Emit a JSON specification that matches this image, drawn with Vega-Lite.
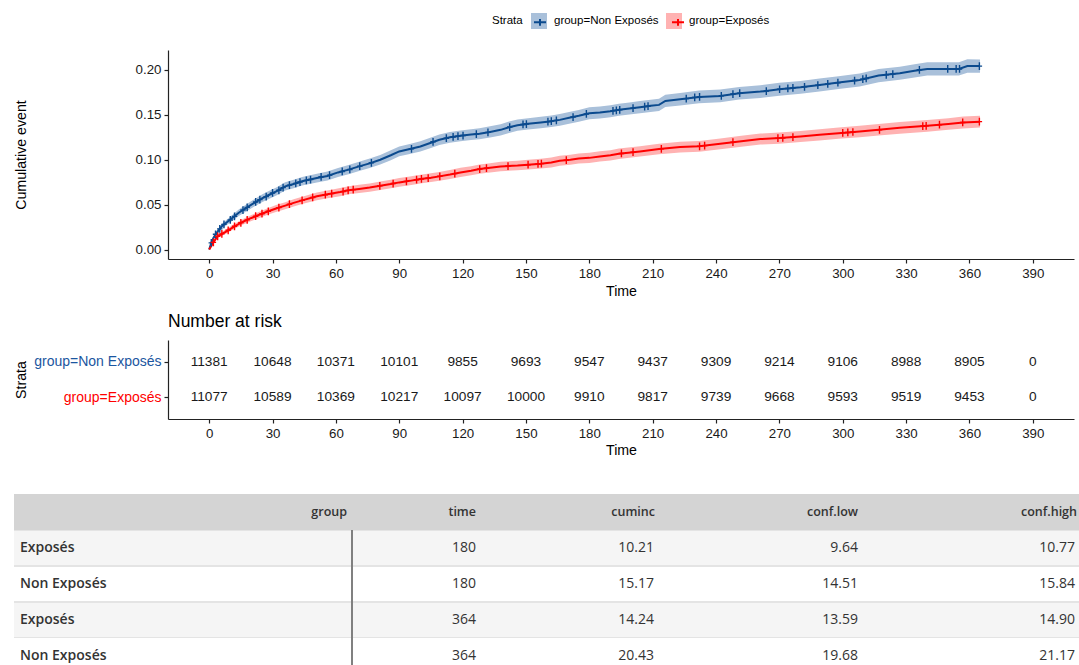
{
  "$schema": "https://vega.github.io/schema/vega-lite/v6.json",
  "padding": {"left": 14, "top": 13, "right": 0, "bottom": 0},
  "autosize": {"type": "pad"},
  "config": {
    "view": {"stroke": null},
    "font": "Liberation Sans",
    "axis": {"grid": false, "domainColor": "#222222", "domainWidth": 1.2, "tickColor": "#222222", "tickWidth": 1.2, "tickSize": 4, "labelColor": "#1a1a1a", "labelFontSize": 13.3, "labelPadding": 3, "titleFontSize": 14.2, "titleFontWeight": "normal", "titleColor": "#000000", "labelFlush": false, "labelOverlap": false}
  },
  "datasets": {
    "curve": [
      {"group": "Non Exposés", "time": 0, "est": 0, "lo": 0, "hi": 0},
      {"group": "Non Exposés", "time": 1, "est": 0.0075, "lo": 0.006, "hi": 0.009},
      {"group": "Non Exposés", "time": 2, "est": 0.013, "lo": 0.011, "hi": 0.015},
      {"group": "Non Exposés", "time": 4, "est": 0.02, "lo": 0.0175, "hi": 0.0225},
      {"group": "Non Exposés", "time": 6, "est": 0.026, "lo": 0.0232, "hi": 0.0288},
      {"group": "Non Exposés", "time": 9, "est": 0.0315, "lo": 0.0285, "hi": 0.0345},
      {"group": "Non Exposés", "time": 14, "est": 0.041, "lo": 0.0375, "hi": 0.0445},
      {"group": "Non Exposés", "time": 20, "est": 0.05, "lo": 0.046, "hi": 0.054},
      {"group": "Non Exposés", "time": 25, "est": 0.057, "lo": 0.0528, "hi": 0.0612},
      {"group": "Non Exposés", "time": 28, "est": 0.0605, "lo": 0.0561, "hi": 0.0649},
      {"group": "Non Exposés", "time": 32, "est": 0.065, "lo": 0.0605, "hi": 0.0695},
      {"group": "Non Exposés", "time": 36, "est": 0.0704, "lo": 0.0658, "hi": 0.075},
      {"group": "Non Exposés", "time": 40, "est": 0.073, "lo": 0.0683, "hi": 0.0777},
      {"group": "Non Exposés", "time": 44, "est": 0.076, "lo": 0.0712, "hi": 0.0808},
      {"group": "Non Exposés", "time": 51, "est": 0.0796, "lo": 0.0747, "hi": 0.0845},
      {"group": "Non Exposés", "time": 56, "est": 0.082, "lo": 0.077, "hi": 0.087},
      {"group": "Non Exposés", "time": 61, "est": 0.0859, "lo": 0.0809, "hi": 0.0909},
      {"group": "Non Exposés", "time": 66, "est": 0.089, "lo": 0.0839, "hi": 0.0941},
      {"group": "Non Exposés", "time": 71, "est": 0.0926, "lo": 0.0874, "hi": 0.0978},
      {"group": "Non Exposés", "time": 76, "est": 0.096, "lo": 0.0907, "hi": 0.1013},
      {"group": "Non Exposés", "time": 81, "est": 0.1, "lo": 0.0946, "hi": 0.1054},
      {"group": "Non Exposés", "time": 86, "est": 0.105, "lo": 0.0995, "hi": 0.1105},
      {"group": "Non Exposés", "time": 90, "est": 0.1093, "lo": 0.1038, "hi": 0.1148},
      {"group": "Non Exposés", "time": 95, "est": 0.112, "lo": 0.1064, "hi": 0.1176},
      {"group": "Non Exposés", "time": 100, "est": 0.1148, "lo": 0.1091, "hi": 0.1205},
      {"group": "Non Exposés", "time": 105, "est": 0.119, "lo": 0.1132, "hi": 0.1248},
      {"group": "Non Exposés", "time": 109, "est": 0.1222, "lo": 0.1163, "hi": 0.1281},
      {"group": "Non Exposés", "time": 114, "est": 0.125, "lo": 0.119, "hi": 0.131},
      {"group": "Non Exposés", "time": 119, "est": 0.1267, "lo": 0.1207, "hi": 0.1327},
      {"group": "Non Exposés", "time": 124, "est": 0.128, "lo": 0.1219, "hi": 0.1341},
      {"group": "Non Exposés", "time": 128, "est": 0.1289, "lo": 0.1228, "hi": 0.135},
      {"group": "Non Exposés", "time": 133, "est": 0.131, "lo": 0.1248, "hi": 0.1372},
      {"group": "Non Exposés", "time": 138, "est": 0.1333, "lo": 0.1271, "hi": 0.1395},
      {"group": "Non Exposés", "time": 142, "est": 0.1362, "lo": 0.1299, "hi": 0.1425},
      {"group": "Non Exposés", "time": 146, "est": 0.1385, "lo": 0.1322, "hi": 0.1448},
      {"group": "Non Exposés", "time": 151, "est": 0.14, "lo": 0.1337, "hi": 0.1463},
      {"group": "Non Exposés", "time": 157, "est": 0.1415, "lo": 0.1351, "hi": 0.1479},
      {"group": "Non Exposés", "time": 162, "est": 0.143, "lo": 0.1366, "hi": 0.1494},
      {"group": "Non Exposés", "time": 166, "est": 0.1444, "lo": 0.1379, "hi": 0.1509},
      {"group": "Non Exposés", "time": 171, "est": 0.147, "lo": 0.1405, "hi": 0.1535},
      {"group": "Non Exposés", "time": 175, "est": 0.1489, "lo": 0.1423, "hi": 0.1555},
      {"group": "Non Exposés", "time": 180, "est": 0.1517, "lo": 0.1451, "hi": 0.1584},
      {"group": "Non Exposés", "time": 185, "est": 0.1526, "lo": 0.146, "hi": 0.1592},
      {"group": "Non Exposés", "time": 190, "est": 0.154, "lo": 0.1473, "hi": 0.1607},
      {"group": "Non Exposés", "time": 194, "est": 0.1556, "lo": 0.1489, "hi": 0.1623},
      {"group": "Non Exposés", "time": 199, "est": 0.157, "lo": 0.1503, "hi": 0.1637},
      {"group": "Non Exposés", "time": 204, "est": 0.1585, "lo": 0.1517, "hi": 0.1653},
      {"group": "Non Exposés", "time": 209, "est": 0.16, "lo": 0.1532, "hi": 0.1668},
      {"group": "Non Exposés", "time": 213, "est": 0.1611, "lo": 0.1543, "hi": 0.1679},
      {"group": "Non Exposés", "time": 216, "est": 0.1655, "lo": 0.1586, "hi": 0.1724},
      {"group": "Non Exposés", "time": 223, "est": 0.1674, "lo": 0.1605, "hi": 0.1743},
      {"group": "Non Exposés", "time": 232, "est": 0.17, "lo": 0.163, "hi": 0.177},
      {"group": "Non Exposés", "time": 242, "est": 0.1711, "lo": 0.1641, "hi": 0.1781},
      {"group": "Non Exposés", "time": 251, "est": 0.1741, "lo": 0.1671, "hi": 0.1811},
      {"group": "Non Exposés", "time": 261, "est": 0.1759, "lo": 0.1688, "hi": 0.183},
      {"group": "Non Exposés", "time": 270, "est": 0.1785, "lo": 0.1714, "hi": 0.1856},
      {"group": "Non Exposés", "time": 280, "est": 0.1807, "lo": 0.1736, "hi": 0.1878},
      {"group": "Non Exposés", "time": 289, "est": 0.1833, "lo": 0.1761, "hi": 0.1905},
      {"group": "Non Exposés", "time": 298, "est": 0.1859, "lo": 0.1787, "hi": 0.1931},
      {"group": "Non Exposés", "time": 308, "est": 0.1889, "lo": 0.1817, "hi": 0.1961},
      {"group": "Non Exposés", "time": 317, "est": 0.1937, "lo": 0.1864, "hi": 0.201},
      {"group": "Non Exposés", "time": 327, "est": 0.1963, "lo": 0.189, "hi": 0.2036},
      {"group": "Non Exposés", "time": 334, "est": 0.199, "lo": 0.1916, "hi": 0.2064},
      {"group": "Non Exposés", "time": 340, "est": 0.2011, "lo": 0.1937, "hi": 0.2085},
      {"group": "Non Exposés", "time": 348, "est": 0.2011, "lo": 0.1937, "hi": 0.2085},
      {"group": "Non Exposés", "time": 355, "est": 0.2011, "lo": 0.1937, "hi": 0.2085},
      {"group": "Non Exposés", "time": 359, "est": 0.2043, "lo": 0.1968, "hi": 0.2118},
      {"group": "Non Exposés", "time": 365, "est": 0.2043, "lo": 0.1968, "hi": 0.2117},
      {"group": "Exposés", "time": 0, "est": 0, "lo": 0, "hi": 0},
      {"group": "Exposés", "time": 1, "est": 0.004, "lo": 0.003, "hi": 0.005},
      {"group": "Exposés", "time": 2, "est": 0.008, "lo": 0.0065, "hi": 0.0095},
      {"group": "Exposés", "time": 4, "est": 0.0148, "lo": 0.0128, "hi": 0.0168},
      {"group": "Exposés", "time": 8, "est": 0.02, "lo": 0.0175, "hi": 0.0225},
      {"group": "Exposés", "time": 12, "est": 0.0259, "lo": 0.0231, "hi": 0.0287},
      {"group": "Exposés", "time": 16, "est": 0.031, "lo": 0.028, "hi": 0.034},
      {"group": "Exposés", "time": 20, "est": 0.0352, "lo": 0.0319, "hi": 0.0385},
      {"group": "Exposés", "time": 24, "est": 0.039, "lo": 0.0355, "hi": 0.0425},
      {"group": "Exposés", "time": 28, "est": 0.0426, "lo": 0.039, "hi": 0.0462},
      {"group": "Exposés", "time": 32, "est": 0.046, "lo": 0.0422, "hi": 0.0498},
      {"group": "Exposés", "time": 36, "est": 0.0489, "lo": 0.045, "hi": 0.0528},
      {"group": "Exposés", "time": 40, "est": 0.052, "lo": 0.048, "hi": 0.056},
      {"group": "Exposés", "time": 44, "est": 0.0548, "lo": 0.0507, "hi": 0.0589},
      {"group": "Exposés", "time": 51, "est": 0.0593, "lo": 0.055, "hi": 0.0636},
      {"group": "Exposés", "time": 56, "est": 0.0615, "lo": 0.0571, "hi": 0.0659},
      {"group": "Exposés", "time": 62, "est": 0.064, "lo": 0.0595, "hi": 0.0685},
      {"group": "Exposés", "time": 66, "est": 0.066, "lo": 0.0615, "hi": 0.0705},
      {"group": "Exposés", "time": 71, "est": 0.0675, "lo": 0.0629, "hi": 0.0721},
      {"group": "Exposés", "time": 76, "est": 0.069, "lo": 0.0644, "hi": 0.0736},
      {"group": "Exposés", "time": 81, "est": 0.0711, "lo": 0.0664, "hi": 0.0758},
      {"group": "Exposés", "time": 86, "est": 0.073, "lo": 0.0683, "hi": 0.0777},
      {"group": "Exposés", "time": 90, "est": 0.0748, "lo": 0.07, "hi": 0.0796},
      {"group": "Exposés", "time": 95, "est": 0.0765, "lo": 0.0717, "hi": 0.0813},
      {"group": "Exposés", "time": 100, "est": 0.0785, "lo": 0.0736, "hi": 0.0834},
      {"group": "Exposés", "time": 105, "est": 0.08, "lo": 0.0751, "hi": 0.0849},
      {"group": "Exposés", "time": 109, "est": 0.0815, "lo": 0.0765, "hi": 0.0865},
      {"group": "Exposés", "time": 114, "est": 0.0835, "lo": 0.0785, "hi": 0.0885},
      {"group": "Exposés", "time": 119, "est": 0.0859, "lo": 0.0808, "hi": 0.091},
      {"group": "Exposés", "time": 124, "est": 0.0878, "lo": 0.0827, "hi": 0.0929},
      {"group": "Exposés", "time": 128, "est": 0.0896, "lo": 0.0844, "hi": 0.0948},
      {"group": "Exposés", "time": 133, "est": 0.091, "lo": 0.0858, "hi": 0.0962},
      {"group": "Exposés", "time": 138, "est": 0.0926, "lo": 0.0873, "hi": 0.0979},
      {"group": "Exposés", "time": 146, "est": 0.0935, "lo": 0.0882, "hi": 0.0988},
      {"group": "Exposés", "time": 151, "est": 0.0945, "lo": 0.0891, "hi": 0.0999},
      {"group": "Exposés", "time": 157, "est": 0.0956, "lo": 0.0902, "hi": 0.101},
      {"group": "Exposés", "time": 162, "est": 0.097, "lo": 0.0915, "hi": 0.1025},
      {"group": "Exposés", "time": 166, "est": 0.0989, "lo": 0.0934, "hi": 0.1044},
      {"group": "Exposés", "time": 171, "est": 0.1, "lo": 0.0944, "hi": 0.1056},
      {"group": "Exposés", "time": 175, "est": 0.1015, "lo": 0.0959, "hi": 0.1071},
      {"group": "Exposés", "time": 180, "est": 0.1021, "lo": 0.0964, "hi": 0.1077},
      {"group": "Exposés", "time": 185, "est": 0.1037, "lo": 0.098, "hi": 0.1094},
      {"group": "Exposés", "time": 190, "est": 0.105, "lo": 0.0993, "hi": 0.1107},
      {"group": "Exposés", "time": 194, "est": 0.1067, "lo": 0.1009, "hi": 0.1125},
      {"group": "Exposés", "time": 204, "est": 0.1093, "lo": 0.1035, "hi": 0.1151},
      {"group": "Exposés", "time": 213, "est": 0.1119, "lo": 0.106, "hi": 0.1178},
      {"group": "Exposés", "time": 223, "est": 0.1141, "lo": 0.1082, "hi": 0.12},
      {"group": "Exposés", "time": 232, "est": 0.115, "lo": 0.109, "hi": 0.121},
      {"group": "Exposés", "time": 242, "est": 0.1178, "lo": 0.1118, "hi": 0.1238},
      {"group": "Exposés", "time": 251, "est": 0.1204, "lo": 0.1143, "hi": 0.1265},
      {"group": "Exposés", "time": 261, "est": 0.123, "lo": 0.1169, "hi": 0.1291},
      {"group": "Exposés", "time": 270, "est": 0.1241, "lo": 0.1179, "hi": 0.1303},
      {"group": "Exposés", "time": 280, "est": 0.1259, "lo": 0.1197, "hi": 0.1321},
      {"group": "Exposés", "time": 289, "est": 0.1278, "lo": 0.1215, "hi": 0.1341},
      {"group": "Exposés", "time": 298, "est": 0.1296, "lo": 0.1233, "hi": 0.1359},
      {"group": "Exposés", "time": 308, "est": 0.1315, "lo": 0.1251, "hi": 0.1379},
      {"group": "Exposés", "time": 317, "est": 0.1333, "lo": 0.1269, "hi": 0.1397},
      {"group": "Exposés", "time": 327, "est": 0.1355, "lo": 0.129, "hi": 0.142},
      {"group": "Exposés", "time": 340, "est": 0.1378, "lo": 0.1313, "hi": 0.1443},
      {"group": "Exposés", "time": 350, "est": 0.1398, "lo": 0.1333, "hi": 0.1463},
      {"group": "Exposés", "time": 357, "est": 0.1415, "lo": 0.1349, "hi": 0.1481},
      {"group": "Exposés", "time": 365, "est": 0.1424, "lo": 0.1359, "hi": 0.149}
    ],
    "censor": [
      {"group": "Non Exposés", "time": 1, "est": 0.0075},
      {"group": "Non Exposés", "time": 3, "est": 0.017},
      {"group": "Non Exposés", "time": 5, "est": 0.023},
      {"group": "Non Exposés", "time": 7, "est": 0.028},
      {"group": "Non Exposés", "time": 10, "est": 0.033},
      {"group": "Non Exposés", "time": 12, "est": 0.037},
      {"group": "Non Exposés", "time": 16, "est": 0.044},
      {"group": "Non Exposés", "time": 18, "est": 0.047},
      {"group": "Non Exposés", "time": 22, "est": 0.053},
      {"group": "Non Exposés", "time": 24, "est": 0.0556},
      {"group": "Non Exposés", "time": 27, "est": 0.059},
      {"group": "Non Exposés", "time": 30, "est": 0.063},
      {"group": "Non Exposés", "time": 33, "est": 0.066},
      {"group": "Non Exposés", "time": 35, "est": 0.069},
      {"group": "Non Exposés", "time": 38, "est": 0.0717},
      {"group": "Non Exposés", "time": 41, "est": 0.0737},
      {"group": "Non Exposés", "time": 43, "est": 0.0752},
      {"group": "Non Exposés", "time": 46, "est": 0.077},
      {"group": "Non Exposés", "time": 48, "est": 0.078},
      {"group": "Non Exposés", "time": 53, "est": 0.081},
      {"group": "Non Exposés", "time": 57, "est": 0.0828},
      {"group": "Non Exposés", "time": 63, "est": 0.087},
      {"group": "Non Exposés", "time": 66.6, "est": 0.0892},
      {"group": "Non Exposés", "time": 71.3, "est": 0.0928},
      {"group": "Non Exposés", "time": 76.8, "est": 0.0966},
      {"group": "Non Exposés", "time": 95.8, "est": 0.1122},
      {"group": "Non Exposés", "time": 106, "est": 0.12},
      {"group": "Non Exposés", "time": 112.3, "est": 0.124},
      {"group": "Non Exposés", "time": 115.5, "est": 0.1254},
      {"group": "Non Exposés", "time": 117.8, "est": 0.1263},
      {"group": "Non Exposés", "time": 120.2, "est": 0.127},
      {"group": "Non Exposés", "time": 126.5, "est": 0.1285},
      {"group": "Non Exposés", "time": 132, "est": 0.1305},
      {"group": "Non Exposés", "time": 142.3, "est": 0.1364},
      {"group": "Non Exposés", "time": 148.6, "est": 0.1393},
      {"group": "Non Exposés", "time": 150.2, "est": 0.1398},
      {"group": "Non Exposés", "time": 160.4, "est": 0.1425},
      {"group": "Non Exposés", "time": 162, "est": 0.143},
      {"group": "Non Exposés", "time": 164.4, "est": 0.1438},
      {"group": "Non Exposés", "time": 172.3, "est": 0.1476},
      {"group": "Non Exposés", "time": 178.6, "est": 0.151},
      {"group": "Non Exposés", "time": 191.2, "est": 0.1545},
      {"group": "Non Exposés", "time": 192.8, "est": 0.155},
      {"group": "Non Exposés", "time": 194.4, "est": 0.1556},
      {"group": "Non Exposés", "time": 200.7, "est": 0.1575},
      {"group": "Non Exposés", "time": 206.2, "est": 0.1591},
      {"group": "Non Exposés", "time": 207.8, "est": 0.1596},
      {"group": "Non Exposés", "time": 225.9, "est": 0.1681},
      {"group": "Non Exposés", "time": 229.9, "est": 0.1694},
      {"group": "Non Exposés", "time": 232.2, "est": 0.17},
      {"group": "Non Exposés", "time": 242.5, "est": 0.1712},
      {"group": "Non Exposés", "time": 248, "est": 0.1732},
      {"group": "Non Exposés", "time": 251.2, "est": 0.1741},
      {"group": "Non Exposés", "time": 263.8, "est": 0.1765},
      {"group": "Non Exposés", "time": 270.1, "est": 0.1785},
      {"group": "Non Exposés", "time": 274, "est": 0.1794},
      {"group": "Non Exposés", "time": 276.4, "est": 0.1799},
      {"group": "Non Exposés", "time": 281.9, "est": 0.1812},
      {"group": "Non Exposés", "time": 288.2, "est": 0.1831},
      {"group": "Non Exposés", "time": 292.9, "est": 0.1845},
      {"group": "Non Exposés", "time": 297.7, "est": 0.1858},
      {"group": "Non Exposés", "time": 305.6, "est": 0.1882},
      {"group": "Non Exposés", "time": 309.5, "est": 0.1897},
      {"group": "Non Exposés", "time": 311.1, "est": 0.1905},
      {"group": "Non Exposés", "time": 320.6, "est": 0.1946},
      {"group": "Non Exposés", "time": 323.7, "est": 0.1954},
      {"group": "Non Exposés", "time": 336.3, "est": 0.2002},
      {"group": "Non Exposés", "time": 349.7, "est": 0.2011},
      {"group": "Non Exposés", "time": 353.7, "est": 0.2011},
      {"group": "Non Exposés", "time": 355.3, "est": 0.2011},
      {"group": "Non Exposés", "time": 364.7, "est": 0.2043},
      {"group": "Exposés", "time": 2, "est": 0.008},
      {"group": "Exposés", "time": 4, "est": 0.0148},
      {"group": "Exposés", "time": 6, "est": 0.0175},
      {"group": "Exposés", "time": 9, "est": 0.0215},
      {"group": "Exposés", "time": 12, "est": 0.0259},
      {"group": "Exposés", "time": 15, "est": 0.0298},
      {"group": "Exposés", "time": 18, "est": 0.0331},
      {"group": "Exposés", "time": 22, "est": 0.0371},
      {"group": "Exposés", "time": 25, "est": 0.0399},
      {"group": "Exposés", "time": 28, "est": 0.0426},
      {"group": "Exposés", "time": 33, "est": 0.0467},
      {"group": "Exposés", "time": 38, "est": 0.0505},
      {"group": "Exposés", "time": 44, "est": 0.0548},
      {"group": "Exposés", "time": 49, "est": 0.058},
      {"group": "Exposés", "time": 55, "est": 0.0611},
      {"group": "Exposés", "time": 58, "est": 0.0623},
      {"group": "Exposés", "time": 63.4, "est": 0.0645},
      {"group": "Exposés", "time": 65.8, "est": 0.0659},
      {"group": "Exposés", "time": 68.2, "est": 0.0667},
      {"group": "Exposés", "time": 80.8, "est": 0.071},
      {"group": "Exposés", "time": 87.1, "est": 0.0735},
      {"group": "Exposés", "time": 93.4, "est": 0.0759},
      {"group": "Exposés", "time": 98.2, "est": 0.0778},
      {"group": "Exposés", "time": 100.5, "est": 0.0786},
      {"group": "Exposés", "time": 103.7, "est": 0.0796},
      {"group": "Exposés", "time": 109.2, "est": 0.0816},
      {"group": "Exposés", "time": 116.3, "est": 0.0846},
      {"group": "Exposés", "time": 128.1, "est": 0.0896},
      {"group": "Exposés", "time": 131.3, "est": 0.0906},
      {"group": "Exposés", "time": 141.5, "est": 0.093},
      {"group": "Exposés", "time": 151, "est": 0.0945},
      {"group": "Exposés", "time": 155.7, "est": 0.0953},
      {"group": "Exposés", "time": 157.3, "est": 0.0957},
      {"group": "Exposés", "time": 169.1, "est": 0.0996},
      {"group": "Exposés", "time": 195.2, "est": 0.107},
      {"group": "Exposés", "time": 200.7, "est": 0.1085},
      {"group": "Exposés", "time": 214.1, "est": 0.1121},
      {"group": "Exposés", "time": 232.2, "est": 0.115},
      {"group": "Exposés", "time": 234.6, "est": 0.1157},
      {"group": "Exposés", "time": 248, "est": 0.1196},
      {"group": "Exposés", "time": 269.3, "est": 0.124},
      {"group": "Exposés", "time": 271.6, "est": 0.1243},
      {"group": "Exposés", "time": 276.4, "est": 0.1252},
      {"group": "Exposés", "time": 300, "est": 0.1299},
      {"group": "Exposés", "time": 302.4, "est": 0.1304},
      {"group": "Exposés", "time": 304.8, "est": 0.1309},
      {"group": "Exposés", "time": 317.4, "est": 0.1334},
      {"group": "Exposés", "time": 337.9, "est": 0.1374},
      {"group": "Exposés", "time": 339.5, "est": 0.1377},
      {"group": "Exposés", "time": 345.8, "est": 0.139},
      {"group": "Exposés", "time": 356.8, "est": 0.1415},
      {"group": "Exposés", "time": 364.7, "est": 0.1424}
    ],
    "risk": [
      {"group": "Non Exposés", "time": 0, "n": 11381},
      {"group": "Non Exposés", "time": 30, "n": 10648},
      {"group": "Non Exposés", "time": 60, "n": 10371},
      {"group": "Non Exposés", "time": 90, "n": 10101},
      {"group": "Non Exposés", "time": 120, "n": 9855},
      {"group": "Non Exposés", "time": 150, "n": 9693},
      {"group": "Non Exposés", "time": 180, "n": 9547},
      {"group": "Non Exposés", "time": 210, "n": 9437},
      {"group": "Non Exposés", "time": 240, "n": 9309},
      {"group": "Non Exposés", "time": 270, "n": 9214},
      {"group": "Non Exposés", "time": 300, "n": 9106},
      {"group": "Non Exposés", "time": 330, "n": 8988},
      {"group": "Non Exposés", "time": 360, "n": 8905},
      {"group": "Non Exposés", "time": 390, "n": 0},
      {"group": "Exposés", "time": 0, "n": 11077},
      {"group": "Exposés", "time": 30, "n": 10589},
      {"group": "Exposés", "time": 60, "n": 10369},
      {"group": "Exposés", "time": 90, "n": 10217},
      {"group": "Exposés", "time": 120, "n": 10097},
      {"group": "Exposés", "time": 150, "n": 10000},
      {"group": "Exposés", "time": 180, "n": 9910},
      {"group": "Exposés", "time": 210, "n": 9817},
      {"group": "Exposés", "time": 240, "n": 9739},
      {"group": "Exposés", "time": 270, "n": 9668},
      {"group": "Exposés", "time": 300, "n": 9593},
      {"group": "Exposés", "time": 330, "n": 9519},
      {"group": "Exposés", "time": 360, "n": 9453},
      {"group": "Exposés", "time": 390, "n": 0}
    ],
    "tbl": [
      {"row": 1, "group": "Exposés", "time": 180, "cuminc": 10.21, "conf_low": 9.64, "conf_high": 10.77},
      {"row": 2, "group": "Non Exposés", "time": 180, "cuminc": 15.17, "conf_low": 14.51, "conf_high": 15.84},
      {"row": 3, "group": "Exposés", "time": 364, "cuminc": 14.24, "conf_low": 13.59, "conf_high": 14.9},
      {"row": 4, "group": "Non Exposés", "time": 364, "cuminc": 20.43, "conf_low": 19.68, "conf_high": 21.17}
    ],
    "cols": [
      {"col": "group"},
      {"col": "time"},
      {"col": "cuminc"},
      {"col": "conf.low"},
      {"col": "conf.high"}
    ]
  },
  "spacing": 35,
  "vconcat": [
    {
      "spacing": 14,
      "vconcat": [
        {
          "width": 906,
          "height": 209,
          "layer": [
            {
              "data": {"name": "curve"},
              "mark": {"type": "area", "interpolate": "linear"},
              "encoding": {
                "x": {"field": "time", "type": "quantitative", "scale": {"domain": [-19.5, 409.5], "nice": false, "zero": false}, "axis": {"title": "Time", "values": [0, 30, 60, 90, 120, 150, 180, 210, 240, 270, 300, 330, 360, 390], "titlePadding": 5}},
                "y": {"field": "lo", "type": "quantitative", "scale": {"domain": [-0.0105, 0.2222], "nice": false, "zero": false}, "axis": {"title": "Cumulative event", "values": [0, 0.05, 0.1, 0.15, 0.2], "format": ".2f", "titlePadding": 107}},
                "y2": {"field": "hi"},
                "fill": {"field": "group", "type": "nominal", "scale": {"domain": ["Non Exposés", "Exposés"], "range": ["#a9c0da", "#ffb2b2"]},
                  "legend": {"orient": "none", "legendX": 324, "legendY": -37, "direction": "horizontal", "title": "Strata", "titleOrient": "left", "titleAnchor": "middle", "titleBaseline": "middle", "titleFontSize": 11.5, "titleFontWeight": "normal", "titleColor": "#000000", "titlePadding": 8, "labelFontSize": 11.5, "labelColor": "#000000", "labelOffset": 7, "columnPadding": 7, "symbolType": "square", "symbolSize": 256, "symbolStrokeWidth": 0, "symbolOpacity": 1, "padding": 0, "labelExpr": "'group=' + datum.label"}}
              }
            },
            {
              "data": {"name": "curve"},
              "mark": {"type": "line", "interpolate": "linear", "strokeWidth": 2},
              "encoding": {
                "x": {"field": "time", "type": "quantitative"},
                "y": {"field": "est", "type": "quantitative"},
                "stroke": {"field": "group", "type": "nominal", "sort": ["Non Exposés", "Exposés"], "scale": {"range": ["#0B4A8E", "#FF0000"]},
                  "legend": {"orient": "none", "legendX": 324, "legendY": -37, "direction": "horizontal", "title": "Strata", "titleOrient": "left", "titleAnchor": "middle", "titleBaseline": "middle", "titleFontSize": 11.5, "titleFontWeight": "normal", "titleColor": "transparent", "titlePadding": 8, "labelFontSize": 11.5, "labelColor": "transparent", "labelOffset": 7, "columnPadding": 7, "symbolType": "M-0.75,0H0.75M0,-0.4V0.45", "symbolSize": 256, "symbolStrokeWidth": 2, "symbolFillColor": "transparent", "symbolOpacity": 1, "padding": 0, "labelExpr": "'group=' + datum.label"}}
              }
            },
            {
              "data": {"name": "censor"},
              "mark": {"type": "point", "shape": "M-0.7,0H0.7M0,-1V1", "filled": false, "size": 60, "strokeWidth": 1.4, "opacity": 1},
              "encoding": {
                "x": {"field": "time", "type": "quantitative"},
                "y": {"field": "est", "type": "quantitative"},
                "stroke": {"field": "group", "type": "nominal", "sort": ["Non Exposés", "Exposés"]}
              }
            }
          ]
        },
        {
          "data": {"name": "risk"},
          "width": 906,
          "height": 79,
          "title": {"text": "Number at risk", "anchor": "start", "frame": "group", "fontSize": 17.5, "fontWeight": "normal", "color": "#000000", "offset": 9.5},
          "mark": {"type": "text", "fontSize": 13.7, "color": "#1a1a1a", "baseline": "middle"},
          "encoding": {
            "x": {"field": "time", "type": "quantitative", "scale": {"domain": [-19.5, 409.5], "nice": false, "zero": false}, "axis": {"title": "Time", "values": [0, 30, 60, 90, 120, 150, 180, 210, 240, 270, 300, 330, 360, 390], "titlePadding": 4}},
            "y": {"field": "group", "type": "nominal", "scale": {"type": "point", "domain": ["Non Exposés", "Exposés"], "padding": 0.6}, "axis": {"title": "Strata", "titlePadding": 5, "labelFontSize": 14, "labelExpr": "'group=' + datum.label", "labelColor": {"condition": {"test": "datum.value === 'Exposés'", "value": "#FF0000"}, "value": "#1B56A0"}}},
            "text": {"field": "n", "type": "quantitative", "format": "d"}
          }
        }
      ]
    },
    {
      "spacing": 0,
      "hconcat": [
        {
          "width": 185,
          "height": 172,
          "layer": [
            {"data": {"name": "tbl"}, "transform": [{"filter": "datum.row <= 3"}], "mark": {"type": "rect", "color": "#e4e4e4"},
              "encoding": {"y": {"field": "row", "type": "ordinal", "scale": {"type": "band", "domain": [0, 1, 2, 3, 4], "range": [0, 180], "paddingInner": 0, "paddingOuter": 0}, "axis": null},
                "x": {"datum": "group", "type": "nominal", "scale": {"type": "band", "range": [-154, 185], "paddingInner": 0, "paddingOuter": 0}, "axis": null}}},
            {"data": {"name": "tbl"}, "transform": [{"filter": "datum.row <= 3"}], "mark": {"type": "rect", "height": {"band": 0.945}},
              "encoding": {"y": {"field": "row", "type": "ordinal"}, "x": {"datum": "group", "type": "nominal"},
                "fill": {"condition": {"test": "datum.row % 2 === 1", "value": "#f5f5f5"}, "value": "#ffffff"}}},
            {"data": {"name": "cols"}, "transform": [{"filter": "datum.col === 'group'"}], "mark": {"type": "rule", "color": "#808080", "strokeWidth": 2},
              "encoding": {"x": {"field": "col", "type": "nominal", "bandPosition": 0.997}}},
            {"data": {"name": "cols"}, "transform": [{"filter": "datum.col === 'group'"}], "mark": {"type": "rect", "color": "#d4d4d4"},
              "encoding": {"y": {"datum": 0, "type": "ordinal"}, "x": {"field": "col", "type": "nominal"}}},
            {"data": {"name": "cols"}, "transform": [{"filter": "datum.col === 'group'"}], "mark": {"type": "text", "align": "right", "baseline": "middle", "dx": -6, "font": "Open Sans", "fontSize": 12.5, "fontWeight": 600, "color": "#333333"},
              "encoding": {"y": {"datum": 0, "type": "ordinal"}, "x": {"field": "col", "type": "nominal", "bandPosition": 1}, "text": {"field": "col"}}},
            {"data": {"name": "tbl"}, "mark": {"type": "text", "align": "left", "baseline": "middle", "dx": 6, "font": "Open Sans", "fontSize": 14, "fontWeight": 600, "color": "#333333"},
              "encoding": {"y": {"field": "row", "type": "ordinal"}, "x": {"datum": "group", "type": "nominal", "bandPosition": 0}, "text": {"field": "group"}}}
          ]
        },
        {
          "width": 129,
          "height": 172,
          "layer": [
            {"data": {"name": "tbl"}, "transform": [{"filter": "datum.row <= 3"}], "mark": {"type": "rect", "color": "#e4e4e4"},
              "encoding": {"y": {"field": "row", "type": "ordinal", "scale": {"type": "band", "domain": [0, 1, 2, 3, 4], "range": [0, 180], "paddingInner": 0, "paddingOuter": 0}, "axis": null},
                "x": {"datum": "time", "type": "nominal", "scale": {"type": "band", "paddingInner": 0, "paddingOuter": 0}, "axis": null}}},
            {"data": {"name": "tbl"}, "transform": [{"filter": "datum.row <= 3"}], "mark": {"type": "rect", "height": {"band": 0.945}},
              "encoding": {"y": {"field": "row", "type": "ordinal"}, "x": {"datum": "time", "type": "nominal"},
                "fill": {"condition": {"test": "datum.row % 2 === 1", "value": "#f5f5f5"}, "value": "#ffffff"}}},
            {"data": {"name": "cols"}, "transform": [{"filter": "datum.col === 'time'"}], "mark": {"type": "rect", "color": "#d4d4d4"},
              "encoding": {"y": {"datum": 0, "type": "ordinal"}, "x": {"field": "col", "type": "nominal"}}},
            {"data": {"name": "cols"}, "transform": [{"filter": "datum.col === 'time'"}], "mark": {"type": "text", "align": "right", "baseline": "middle", "dx": -6, "font": "Open Sans", "fontSize": 12.5, "fontWeight": 600, "color": "#333333"},
              "encoding": {"y": {"datum": 0, "type": "ordinal"}, "x": {"field": "col", "type": "nominal", "bandPosition": 1}, "text": {"field": "col"}}},
            {"data": {"name": "tbl"}, "mark": {"type": "text", "align": "right", "baseline": "middle", "dx": -6, "font": "Open Sans", "fontSize": 14, "color": "#333333"},
              "encoding": {"y": {"field": "row", "type": "ordinal"}, "x": {"datum": "time", "type": "nominal", "bandPosition": 1}, "text": {"field": "time", "type": "quantitative", "format": "d"}}}
          ]
        },
        {
          "width": 179,
          "height": 172,
          "layer": [
            {"data": {"name": "tbl"}, "transform": [{"filter": "datum.row <= 3"}], "mark": {"type": "rect", "color": "#e4e4e4"},
              "encoding": {"y": {"field": "row", "type": "ordinal", "scale": {"type": "band", "domain": [0, 1, 2, 3, 4], "range": [0, 180], "paddingInner": 0, "paddingOuter": 0}, "axis": null},
                "x": {"datum": "cuminc", "type": "nominal", "scale": {"type": "band", "paddingInner": 0, "paddingOuter": 0}, "axis": null}}},
            {"data": {"name": "tbl"}, "transform": [{"filter": "datum.row <= 3"}], "mark": {"type": "rect", "height": {"band": 0.945}},
              "encoding": {"y": {"field": "row", "type": "ordinal"}, "x": {"datum": "cuminc", "type": "nominal"},
                "fill": {"condition": {"test": "datum.row % 2 === 1", "value": "#f5f5f5"}, "value": "#ffffff"}}},
            {"data": {"name": "cols"}, "transform": [{"filter": "datum.col === 'cuminc'"}], "mark": {"type": "rect", "color": "#d4d4d4"},
              "encoding": {"y": {"datum": 0, "type": "ordinal"}, "x": {"field": "col", "type": "nominal"}}},
            {"data": {"name": "cols"}, "transform": [{"filter": "datum.col === 'cuminc'"}], "mark": {"type": "text", "align": "right", "baseline": "middle", "dx": -6, "font": "Open Sans", "fontSize": 12.5, "fontWeight": 600, "color": "#333333"},
              "encoding": {"y": {"datum": 0, "type": "ordinal"}, "x": {"field": "col", "type": "nominal", "bandPosition": 1}, "text": {"field": "col"}}},
            {"data": {"name": "tbl"}, "mark": {"type": "text", "align": "right", "baseline": "middle", "dx": -7, "font": "Open Sans", "fontSize": 14, "color": "#333333"},
              "encoding": {"y": {"field": "row", "type": "ordinal"}, "x": {"datum": "cuminc", "type": "nominal", "bandPosition": 1}, "text": {"field": "cuminc", "type": "quantitative", "format": ".2f"}}}
          ]
        },
        {
          "width": 203,
          "height": 172,
          "layer": [
            {"data": {"name": "tbl"}, "transform": [{"filter": "datum.row <= 3"}], "mark": {"type": "rect", "color": "#e4e4e4"},
              "encoding": {"y": {"field": "row", "type": "ordinal", "scale": {"type": "band", "domain": [0, 1, 2, 3, 4], "range": [0, 180], "paddingInner": 0, "paddingOuter": 0}, "axis": null},
                "x": {"datum": "conf.low", "type": "nominal", "scale": {"type": "band", "paddingInner": 0, "paddingOuter": 0}, "axis": null}}},
            {"data": {"name": "tbl"}, "transform": [{"filter": "datum.row <= 3"}], "mark": {"type": "rect", "height": {"band": 0.945}},
              "encoding": {"y": {"field": "row", "type": "ordinal"}, "x": {"datum": "conf.low", "type": "nominal"},
                "fill": {"condition": {"test": "datum.row % 2 === 1", "value": "#f5f5f5"}, "value": "#ffffff"}}},
            {"data": {"name": "cols"}, "transform": [{"filter": "datum.col === 'conf.low'"}], "mark": {"type": "rect", "color": "#d4d4d4"},
              "encoding": {"y": {"datum": 0, "type": "ordinal"}, "x": {"field": "col", "type": "nominal"}}},
            {"data": {"name": "cols"}, "transform": [{"filter": "datum.col === 'conf.low'"}], "mark": {"type": "text", "align": "right", "baseline": "middle", "dx": -6, "font": "Open Sans", "fontSize": 12.5, "fontWeight": 600, "color": "#333333"},
              "encoding": {"y": {"datum": 0, "type": "ordinal"}, "x": {"field": "col", "type": "nominal", "bandPosition": 1}, "text": {"field": "col"}}},
            {"data": {"name": "tbl"}, "mark": {"type": "text", "align": "right", "baseline": "middle", "dx": -6, "font": "Open Sans", "fontSize": 14, "color": "#333333"},
              "encoding": {"y": {"field": "row", "type": "ordinal"}, "x": {"datum": "conf.low", "type": "nominal", "bandPosition": 1}, "text": {"field": "conf_low", "type": "quantitative", "format": ".2f"}}}
          ]
        },
        {
          "width": 215,
          "height": 172,
          "layer": [
            {"data": {"name": "tbl"}, "transform": [{"filter": "datum.row <= 3"}], "mark": {"type": "rect", "color": "#e4e4e4"},
              "encoding": {"y": {"field": "row", "type": "ordinal", "scale": {"type": "band", "domain": [0, 1, 2, 3, 4], "range": [0, 180], "paddingInner": 0, "paddingOuter": 0}, "axis": null},
                "x": {"datum": "conf.high", "type": "nominal", "scale": {"type": "band", "paddingInner": 0, "paddingOuter": 0}, "axis": null}}},
            {"data": {"name": "tbl"}, "transform": [{"filter": "datum.row <= 3"}], "mark": {"type": "rect", "height": {"band": 0.945}},
              "encoding": {"y": {"field": "row", "type": "ordinal"}, "x": {"datum": "conf.high", "type": "nominal"},
                "fill": {"condition": {"test": "datum.row % 2 === 1", "value": "#f5f5f5"}, "value": "#ffffff"}}},
            {"data": {"name": "cols"}, "transform": [{"filter": "datum.col === 'conf.high'"}], "mark": {"type": "rect", "color": "#d4d4d4"},
              "encoding": {"y": {"datum": 0, "type": "ordinal"}, "x": {"field": "col", "type": "nominal"}}},
            {"data": {"name": "cols"}, "transform": [{"filter": "datum.col === 'conf.high'"}], "mark": {"type": "text", "align": "right", "baseline": "middle", "dx": -2, "font": "Open Sans", "fontSize": 12.5, "fontWeight": 600, "color": "#333333"},
              "encoding": {"y": {"datum": 0, "type": "ordinal"}, "x": {"field": "col", "type": "nominal", "bandPosition": 1}, "text": {"field": "col"}}},
            {"data": {"name": "tbl"}, "mark": {"type": "text", "align": "right", "baseline": "middle", "dx": -4, "font": "Open Sans", "fontSize": 14, "color": "#333333"},
              "encoding": {"y": {"field": "row", "type": "ordinal"}, "x": {"datum": "conf.high", "type": "nominal", "bandPosition": 1}, "text": {"field": "conf_high", "type": "quantitative", "format": ".2f"}}}
          ]
        }
      ]
    }
  ]
}
